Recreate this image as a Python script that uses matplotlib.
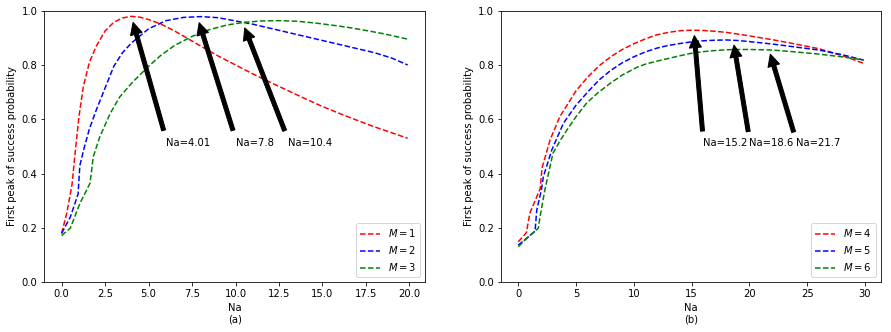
import matplotlib
matplotlib.use("Agg")
import matplotlib.pyplot as plt

# ---- panel (a) data ----
x_m1 = [0, 0.3, 0.6, 0.8, 1.0, 1.25, 1.6, 2.0, 2.5, 3.0, 3.5, 4.0, 4.5, 5.0, 5.7, 6.5, 7.5, 8.2,
        9.0, 10.0, 11.0, 12.0, 13.0, 14.0, 15.0, 16.0, 17.0, 18.0, 19.0, 19.9]
y_m1 = [0.18, 0.255, 0.36, 0.49, 0.61, 0.72, 0.81, 0.87, 0.925, 0.957, 0.973, 0.979, 0.976,
        0.967, 0.951, 0.925, 0.888, 0.862, 0.833, 0.80, 0.767, 0.736, 0.706, 0.676, 0.647,
        0.621, 0.596, 0.572, 0.55, 0.53]

x_m2 = [0, 0.5, 0.95, 1.0, 1.05, 1.3, 1.6, 2.0, 2.5, 3.0, 3.5, 4.0, 5.0, 6.0, 7.0, 8.0, 9.0,
        10.0, 11.0, 12.0, 13.0, 14.0, 15.0, 16.0, 17.0, 18.0, 19.0, 19.9]
y_m2 = [0.18, 0.24, 0.325, 0.38, 0.43, 0.495, 0.565, 0.635, 0.715, 0.795, 0.845, 0.88, 0.933,
        0.963, 0.975, 0.978, 0.974, 0.962, 0.95, 0.935, 0.92, 0.905, 0.89, 0.875, 0.86, 0.845,
        0.825, 0.80]

x_m3 = [0, 0.5, 1.05, 1.63, 1.73, 1.82, 2.2, 2.8, 3.35, 4.1, 5.0, 5.7, 6.5, 7.5, 8.5,
        9.5, 10.5, 11.5, 12.5, 13.5, 14.5, 15.5, 16.5, 17.5, 18.5, 19.9]
y_m3 = [0.172, 0.199, 0.29, 0.364, 0.413, 0.462, 0.536, 0.622, 0.683, 0.738, 0.795, 0.835,
        0.872, 0.905, 0.93, 0.947, 0.957, 0.962, 0.963, 0.961, 0.955, 0.947, 0.938, 0.927,
        0.915, 0.895]

# ---- panel (b) data ----
x_m4 = [0, 0.7, 1.0, 1.6, 1.9, 2.05, 2.75, 3.6, 5.0, 6.0, 7.0, 8.0, 9.0, 10.0, 11.0, 12.0, 13.0,
        14.0, 15.0, 16.0, 17.0, 18.0, 20.0, 22.0, 24.0, 26.0, 28.0, 29.9]
y_m4 = [0.149, 0.183, 0.254, 0.315, 0.345, 0.42, 0.524, 0.61, 0.705, 0.755, 0.797, 0.83, 0.857,
        0.878, 0.896, 0.911, 0.92, 0.926, 0.928, 0.927, 0.924, 0.92, 0.907, 0.893, 0.877,
        0.86, 0.835, 0.806]

x_m5 = [0, 0.8, 1.45, 1.6, 2.0, 2.17, 2.9, 3.9, 5.0, 6.0, 7.0, 8.0, 9.0, 10.0, 11.0,
        12.0, 13.0, 14.0, 15.0, 16.0, 17.0, 18.0, 19.0, 20.0, 22.0, 24.0, 26.0, 28.0, 29.9]
y_m5 = [0.137, 0.165, 0.188, 0.266, 0.34, 0.389, 0.487, 0.585, 0.652, 0.70, 0.745, 0.78, 0.808,
        0.83, 0.848, 0.862, 0.872, 0.879, 0.885, 0.889, 0.891, 0.892, 0.89, 0.886, 0.877,
        0.866, 0.855, 0.838, 0.818]

x_m6 = [0, 0.8, 1.73, 1.88, 2.3, 3.0, 3.6, 4.2, 5.0, 5.9, 6.9, 7.95, 9.0, 10.3, 11.0,
        12.0, 13.0, 14.0, 15.0, 16.0, 17.0, 18.0, 19.0, 20.0, 21.0, 22.0, 24.0, 26.0, 28.0, 29.9]
y_m6 = [0.131, 0.165, 0.199, 0.24, 0.34, 0.475, 0.52, 0.56, 0.61, 0.659, 0.698, 0.732, 0.763,
        0.792, 0.803, 0.814, 0.824, 0.834, 0.843, 0.849, 0.853, 0.856, 0.857, 0.857,
        0.856, 0.855, 0.848, 0.84, 0.83, 0.818]

# annotations: (label, target x, target y, text x, text y)
ann_a = [("Na=4.01", 4.01, 0.979, 6, 0.5),
         ("Na=7.8", 7.8, 0.978, 10, 0.5),
         ("Na=10.4", 10.4, 0.958, 13, 0.5)]
ann_b = [("Na=15.2", 15.2, 0.928, 16, 0.5),
         ("Na=18.6", 18.6, 0.891, 20, 0.5),
         ("Na=21.7", 21.7, 0.856, 24, 0.5)]

labels_a = ["$M=1$", "$M=2$", "$M=3$"]
labels_b = ["$M=4$", "$M=5$", "$M=6$"]
colors = ["r", "b", "g"]

fig = plt.figure(figsize=(891 / 72, 332 / 72), dpi=72)
ax1 = fig.add_axes([0.0497, 0.1497, 0.4273, 0.8183])
ax2 = fig.add_axes([0.5623, 0.1497, 0.4265, 0.8183])

for ax, xs, ys, labels, anns, sub in [
        (ax1, [x_m1, x_m2, x_m3], [y_m1, y_m2, y_m3], labels_a, ann_a, "(a)"),
        (ax2, [x_m4, x_m5, x_m6], [y_m4, y_m5, y_m6], labels_b, ann_b, "(b)")]:
    for x, y, lab, c in zip(xs, ys, labels, colors):
        ax.plot(x, y, "--", color=c, label=lab)
    for lab, tx, ty, sx, sy in anns:
        ax.annotate(lab, xy=(tx, ty), xytext=(sx, sy),
                    arrowprops=dict(facecolor="black", shrink=0.05))
    ax.set_ylim(0, 1.0)
    ax.set_xlabel("Na\n" + sub)
    ax.set_ylabel("First peak of success probability")
    ax.legend(loc="lower right")

fig.savefig("out.png", dpi=72)
